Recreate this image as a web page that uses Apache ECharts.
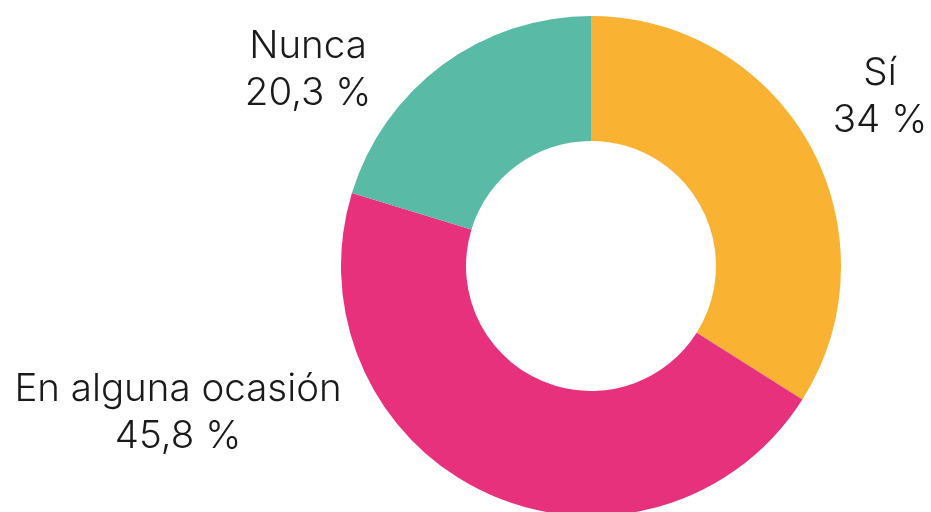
<!DOCTYPE html>
<html>
<head>
<meta charset="utf-8">
<script src="https://cdn.jsdelivr.net/npm/echarts@6/dist/echarts.min.js"></script>
<style>
html,body{margin:0;padding:0;background:#fff;}
#chart{width:931px;height:512px;}
</style>
</head>
<body>
<div id="chart"></div>
<script>
const categories = ["Sí", "En alguna ocasión", "Nunca"];
const values = [34, 45.8, 20.3];
const valueLabels = ["34 %", "45,8 %", "20,3 %"];
const colors = ["#F9B231", "#E8317C", "#59BAA5"];

const labelPos = [
  {x: 880, y: 97},
  {x: 178, y: 413},
  {x: 308, y: 70}
];

const chart = echarts.init(document.getElementById('chart'), null, {renderer: 'canvas'});
chart.setOption({
  animation: false,
  backgroundColor: '#ffffff',
  series: [{
    type: 'pie',
    center: [591, 266],
    radius: [125, 250],
    startAngle: 90,
    clockwise: true,
    avoidLabelOverlap: false,
    data: categories.map((c, i) => ({
      name: c,
      value: values[i],
      itemStyle: {color: colors[i]},
      label: {formatter: c + '\n' + valueLabels[i]}
    })),
    label: {
      show: true,
      position: 'outside',
      color: '#1a1a1a',
      fontFamily: 'Inter',
      fontSize: 38.5,
      fontWeight: 300,
      lineHeight: 47,
      align: 'center'
    },
    labelLine: {show: false},
    labelLayout: function (p) {
      const pos = labelPos[p.dataIndex];
      return {x: pos.x, y: pos.y, align: 'center', verticalAlign: 'middle', hideOverlap: false};
    },
    emphasis: {disabled: true}
  }]
});
</script>
</body>
</html>
